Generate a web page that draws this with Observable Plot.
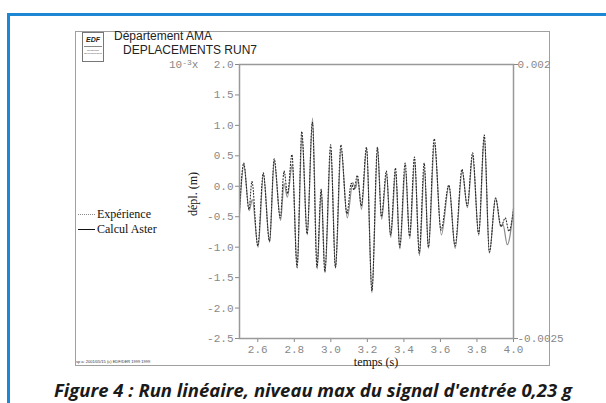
<!DOCTYPE html>
<html><head><meta charset="utf-8">
<script src="https://cdn.jsdelivr.net/npm/d3@7"></script>
<script src="https://cdn.jsdelivr.net/npm/@observablehq/plot@0.6"></script>
<style>
body{margin:0;background:#fff;}
#page{position:relative;width:606px;height:403px;overflow:hidden;background:#fff;}
.abs{position:absolute;white-space:nowrap;}
#blue{left:7px;top:13px;width:700px;height:500px;border:3px solid #1d87d3;box-sizing:border-box;}
#box{left:75px;top:31px;width:475px;height:335px;border:1.5px solid #a0a0a0;box-sizing:border-box;}
#edf{left:82px;top:32px;width:22px;height:30px;border:1px solid #777;box-sizing:border-box;}
.sans{font-family:"Liberation Sans",Arial,sans-serif;color:#222;font-size:12px;line-height:13px;}
.serif{font-family:"Liberation Serif","Times New Roman",serif;color:#111;font-size:12px;line-height:14px;}
.mono{font-family:"Liberation Mono",monospace;color:#888;font-size:11px;line-height:13px;}
#chart{position:absolute;left:0;top:0;}
#caption{left:0;top:380px;width:626px;text-align:center;font-family:"Open Sans",sans-serif;font-style:italic;font-weight:700;font-size:18.5px;line-height:20px;color:#1a1a1a;}
</style></head><body>
<div id="page">
  <div id="blue" class="abs"></div>
  <div id="box" class="abs"></div>
  <div id="edf" class="abs">
    <div style="font:italic 700 7px 'Liberation Sans',Arial,sans-serif;color:#222;text-align:center;margin-top:3px;line-height:8px;">EDF</div>
    <div style="border-top:1px solid #888;margin:2px 1px 0 1px;"></div>
    <div style="font:2.5px 'Liberation Sans',Arial,sans-serif;color:#444;text-align:center;line-height:3px;margin-top:2px;">Recherche<br>Développement</div>
  </div>
  <div class="abs sans" style="left:114px;top:30px;">Département AMA</div>
  <div class="abs sans" style="left:123px;top:44px;">DEPLACEMENTS RUN7</div>
  <div class="abs mono" style="left:169px;top:59px;">10<span style="font-size:8px;position:relative;top:-3px;">-3</span>x</div>
  <div class="abs serif" style="left:193px;top:194px;transform:translate(-50%,-50%) rotate(-90deg);">dépl. (m)</div>
  <div class="abs serif" style="left:376px;top:362px;transform:translate(-50%,-50%);">temps (s)</div>
  <div class="abs" style="left:78px;top:214px;width:17px;border-top:1px dotted #888;"></div>
  <div class="abs serif" style="left:97px;top:207px;">Expérience</div>
  <div class="abs" style="left:78px;top:229px;width:17px;border-top:1px solid #111;"></div>
  <div class="abs serif" style="left:97px;top:222px;">Calcul Aster</div>
  <div class="abs" style="left:76px;top:359px;font:4px 'Liberation Sans',Arial,sans-serif;color:#333;">sp a: 2001/05/15 (c) EDF/DER 1999 1999</div>
  <div id="caption" class="abs">Figure 4 : Run linéaire, niveau max du signal d'entrée 0,23 g</div>
  <div id="chart"></div>
</div>
<script>
// Calcul Aster (solid line): time (s) and displacement (x 1e-3 m)
const calcT = [2.500,2.524,2.553,2.570,2.602,2.631,2.665,2.690,2.725,2.744,2.762,2.789,2.816,2.842,2.871,2.900,2.925,2.948,2.968,3.000,3.026,3.056,3.090,3.120,3.135,3.148,3.168,3.196,3.225,3.256,3.278,3.305,3.328,3.355,3.378,3.408,3.432,3.459,3.485,3.512,3.535,3.567,3.605,3.647,3.681,3.719,3.748,3.776,3.810,3.840,3.868,3.902,3.930,3.942,3.966,4.000];
const calcV = [-0.45,0.35,-0.40,-0.22,-1.00,0.20,-0.92,0.40,-0.56,0.05,-0.18,0.36,-1.35,0.82,-0.80,1.12,-1.36,-0.07,-1.42,0.60,-1.35,0.62,-0.52,0.06,-0.03,0.12,-0.38,0.62,-1.75,0.60,-0.54,0.20,-0.84,0.22,-1.03,0.28,-0.86,0.40,-1.14,0.28,-1.02,0.70,-0.80,0.01,-1.02,0.25,-0.35,0.50,-0.81,0.80,-1.10,-0.18,-0.66,-0.62,-0.96,-0.36];
// Expérience (dotted line)
const expT = [2.500,2.523,2.552,2.568,2.600,2.630,2.664,2.690,2.723,2.744,2.763,2.787,2.815,2.841,2.870,2.899,2.924,2.947,2.967,2.999,3.025,3.055,3.088,3.112,3.127,3.145,3.167,3.195,3.225,3.255,3.277,3.304,3.327,3.354,3.377,3.407,3.431,3.458,3.484,3.511,3.534,3.566,3.603,3.646,3.680,3.718,3.747,3.776,3.809,3.840,3.868,3.902,3.932,3.955,3.975,4.000];
const expV = [-0.40,0.38,-0.38,0.08,-0.98,0.22,-0.90,0.45,-0.52,0.25,-0.12,0.52,-1.33,0.90,-0.78,1.05,-1.33,-0.05,-1.40,0.68,-1.33,0.68,-0.45,0.05,-0.06,0.18,-0.32,0.64,-1.72,0.64,-0.50,0.25,-0.80,0.30,-1.00,0.38,-0.82,0.48,-1.10,0.38,-1.00,0.78,-0.72,0.02,-0.98,0.28,-0.32,0.55,-0.78,0.84,-1.08,-0.20,-0.66,-0.52,-0.74,-0.38];
const xTicks = [2.6,2.8,3.0,3.2,3.4,3.6,3.8,4.0];
const yTicks = [-2.5,-2.0,-1.5,-1.0,-0.5,0.0,0.5,1.0,1.5,2.0];
const rightTicks = [2.0,-2.5];
const rightTickLabels = ["0.002","-0.0025"];

const calc = calcT.map((t,i)=>({t, v: calcV[i]}));
const expr = expT.map((t,i)=>({t, v: expV[i]}));

const chart = Plot.plot({
  width: 606, height: 403,
  marginLeft: 239, marginRight: 93, marginTop: 64, marginBottom: 65,
  x: {domain: [2.5, 4.0]},
  y: {domain: [-2.5, 2.0]},
  style: {background: "transparent", fontFamily: "'Liberation Mono', monospace", fontSize: "11px", color: "#888", overflow: "visible"},
  marks: [
    Plot.axisY({ticks: yTicks, tickFormat: d => d.toFixed(1), tickSize: 4, tickPadding: 2, label: null}),
    Plot.axisX({ticks: xTicks, tickFormat: d => d.toFixed(1), tickSize: 4, tickPadding: 3, label: null}),
    Plot.axisY({anchor: "right", ticks: rightTicks, tickFormat: d => rightTickLabels[rightTicks.indexOf(d)], tickSize: 4, tickPadding: 0, label: null}),
    Plot.line(calc, {x: "t", y: "v", curve: "monotone-x", stroke: "#8a8a8a", strokeWidth: 1.2}),
    Plot.line(expr, {x: "t", y: "v", curve: "monotone-x", stroke: "#2a2a2a", strokeWidth: 1.1, strokeDasharray: "1,2"}),
    Plot.frame({stroke: "#999", strokeWidth: 1.5})
  ]
});
document.getElementById("chart").appendChild(chart);
</script>
</body></html>
